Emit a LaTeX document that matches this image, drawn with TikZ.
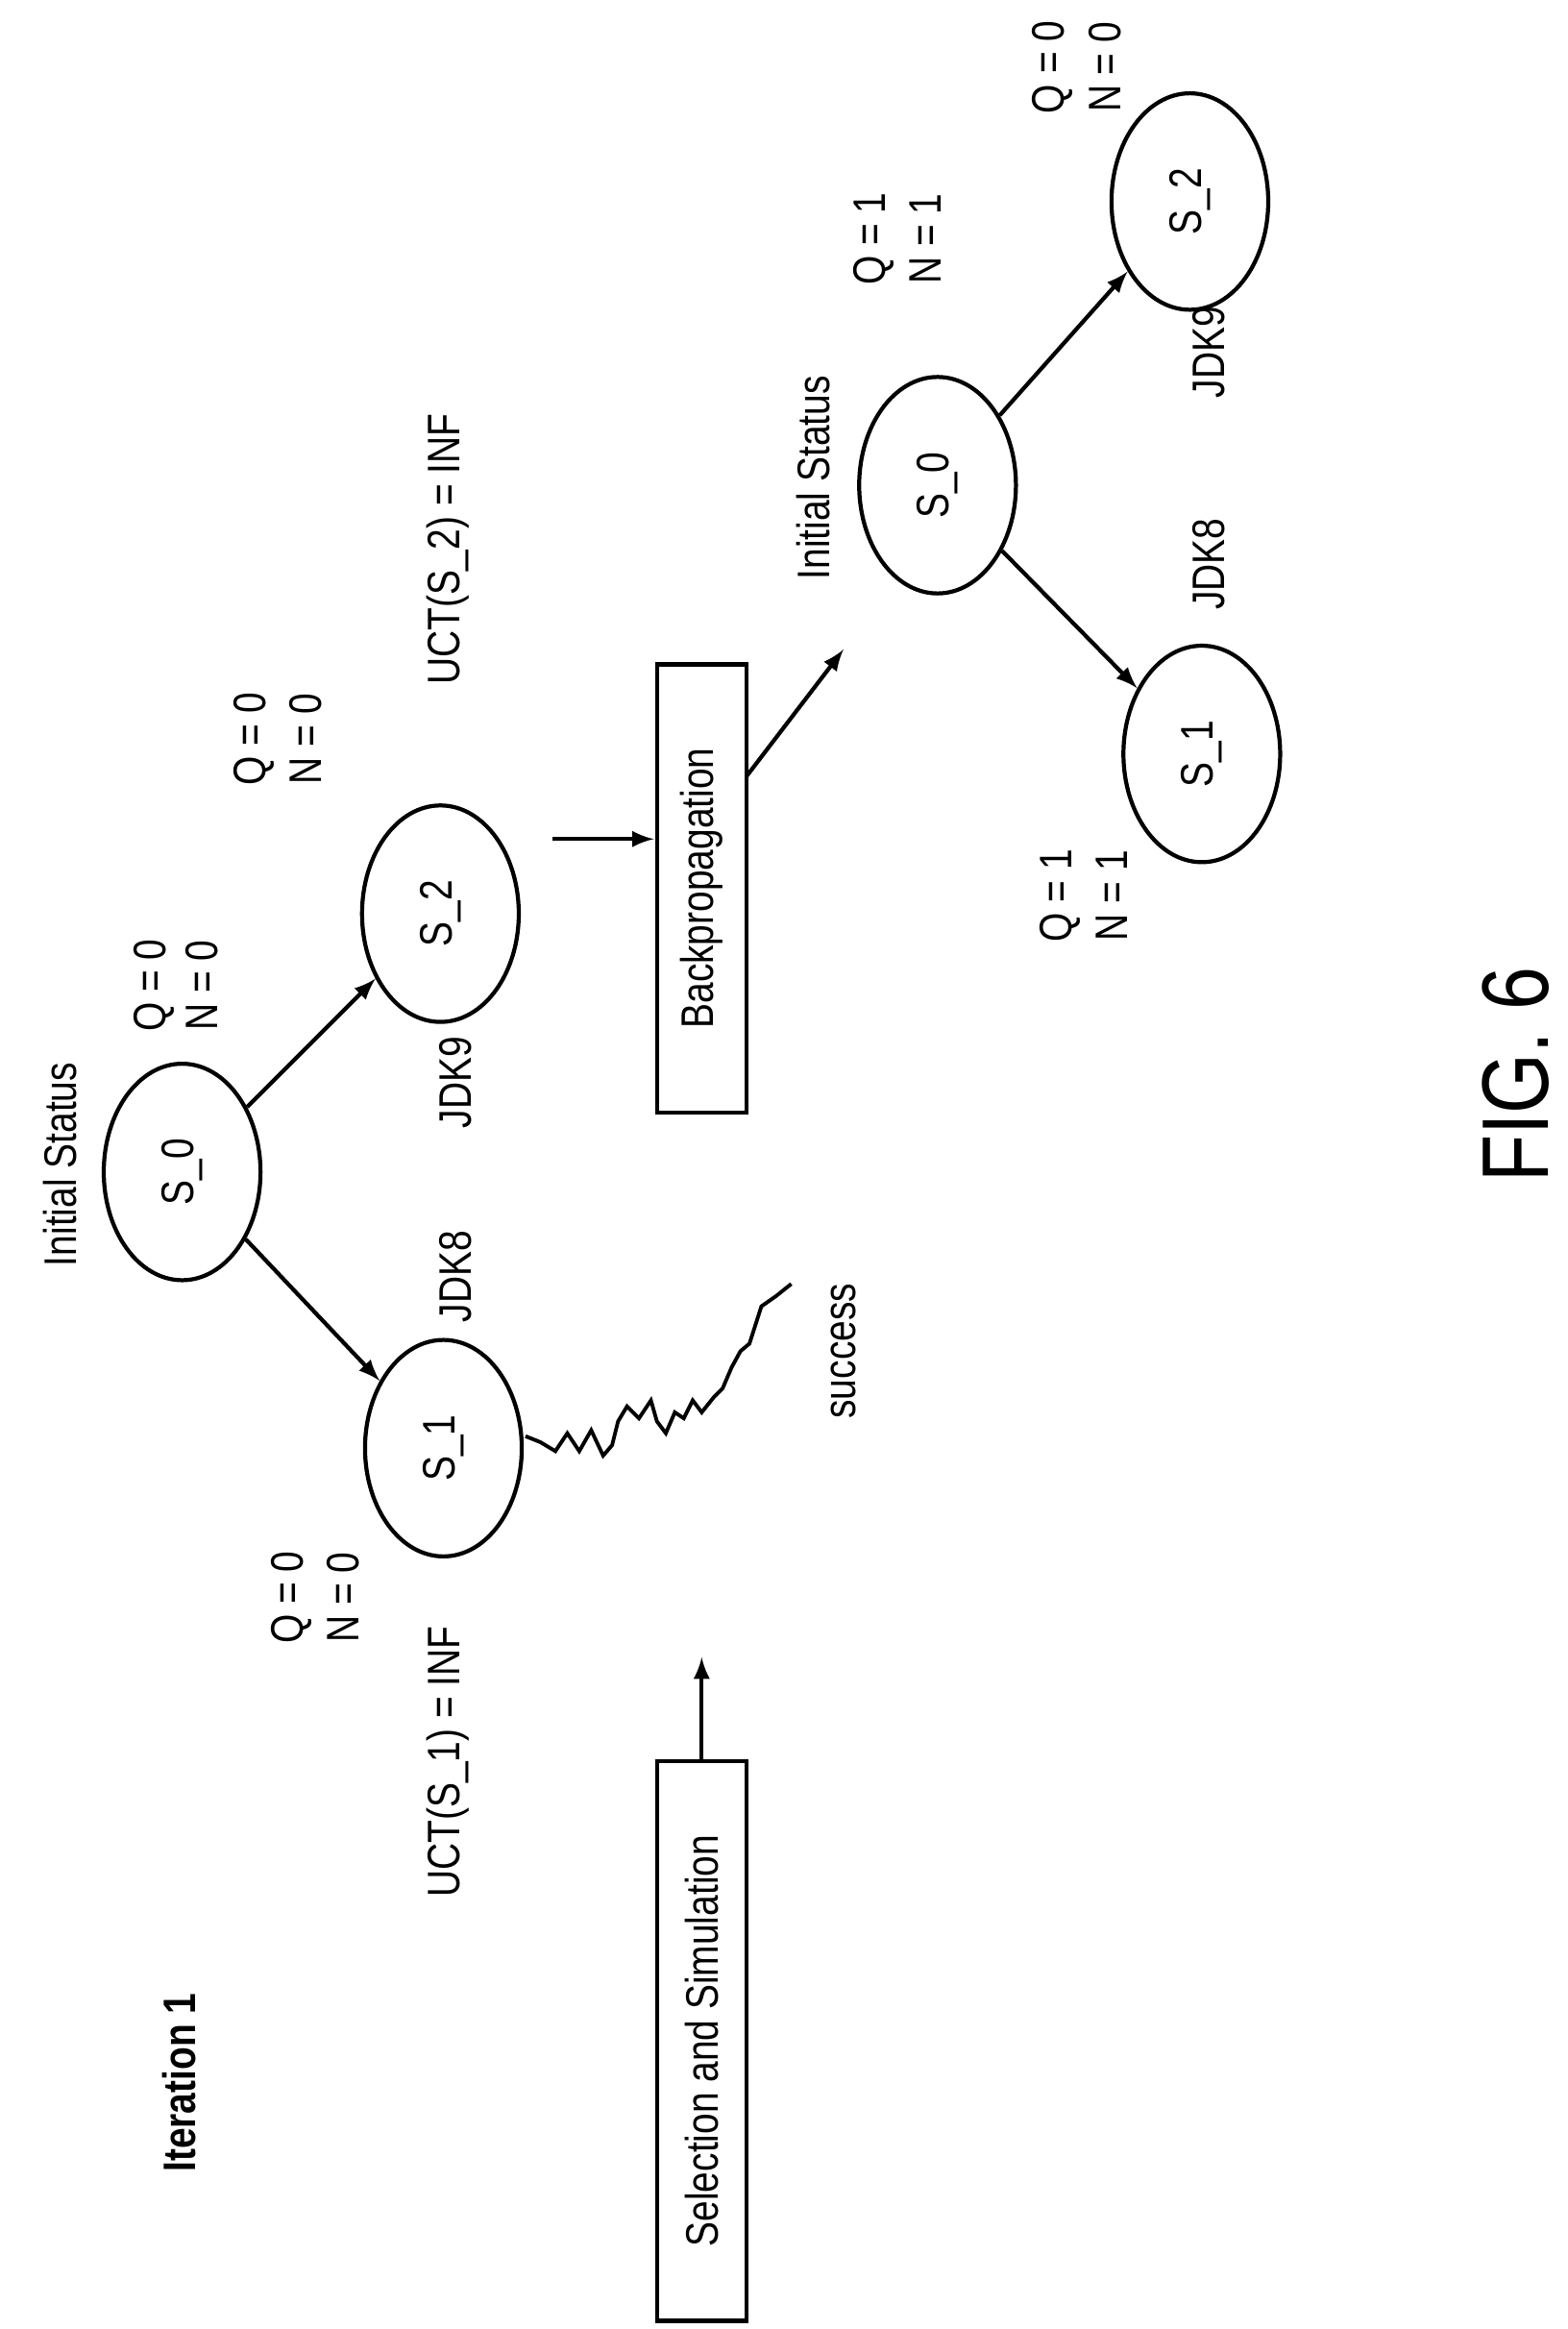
\documentclass[tikz,border=0pt]{standalone}
\usetikzlibrary{shapes.geometric}
\usepackage{fontspec}
\setmainfont[FakeStretch=0.82]{Liberation Sans}
\begin{document}
\begin{tikzpicture}[x=0.01553cm,y=-0.01553cm,
  lab/.style={rotate=90,font=\fontsize{13.5}{15}\selectfont,inner sep=0},
  box/.style={draw,line width=1.2pt,rotate=90,font=\fontsize{13.5}{15}\selectfont},
  arr/.style={-latex,line width=1.2pt}]
\useasboundingbox (0,0) rectangle (1050,1560);
\tikzset{ell/.style={draw,line width=1.2pt,ellipse,minimum width=145*0.01553cm,minimum height=105*0.01553cm,rotate=90,font=\fontsize{13.5}{15}\selectfont,inner sep=0}}
\node[rotate=90,font=\bfseries\fontsize{13.5}{15}\selectfont] (it) at (120,1395) {Iteration 1};
\node[box,minimum width=375*0.01553cm,minimum height=60*0.01553cm] (sel) at (470,1367) {Selection and Simulation};
\coordinate (selt) at (470,1110);
\draw[arr] (sel.east) -- (selt);
% tree 1
\node[ell] (a0) at (122,785) {S\_0};
\node[ell] (a1) at (297,970) {S\_1};
\node[ell] (a2) at (295,612) {S\_2};
\draw[arr] (a0) -- (a1);
\draw[arr] (a0) -- (a2);
\node[lab] (lis) at (40,780) {Initial Status};
\node[lab] (q0) at (103,660) {Q = 0};
\node[lab] (n0) at (135,660) {N = 0};
\node[lab] (q1) at (195,1070) {Q = 0};
\node[lab] (n1) at (230,1070) {N = 0};
\node[lab] (u1) at (300,1180) {UCT(S\_1) = INF};
\node[lab] (j8) at (305,855) {JDK8};
\node[lab] (j9) at (305,725) {JDK9};
\node[lab] (q2) at (170,495) {Q = 0};
\node[lab] (n2) at (205,495) {N = 0};
\node[lab] (u2) at (300,368) {UCT(S\_2) = INF};
\coordinate (sq) at (530,860);
\draw[line width=1.1pt] (352,962) -- (362,966) -- (372,972) -- (380,960) -- (388,972) -- (396,958) -- (404,975) -- (410,968) -- (414,952) -- (420,942) -- (428,950) -- (436,938) -- (440,952) -- (446,960) -- (452,946) -- (458,950) -- (464,938) -- (470,946) -- (478,936) -- (484,930) -- (490,916) -- (496,905) -- (502,900) -- (510,875) -- (520,868) -- (sq);
\node[lab] (succ) at (565,905) {success};
\node[box,minimum width=300*0.01553cm,minimum height=60*0.01553cm] (bp) at (470,595) {Backpropagation};
\coordinate (bpa) at (370,562);
\coordinate (bpb) at (438,562);
\draw[arr] (bpa) -- (bpb);
\coordinate (bpt) at (565,435);
\coordinate (bps) at (500,520);
\draw[arr] (bps) -- (bpt);
% tree 2
\node[ell] (b0) at (628,325) {S\_0};
\node[ell] (b1) at (805,505) {S\_1};
\node[ell] (b2) at (797,135) {S\_2};
\draw[arr] (b0) -- (b1);
\draw[arr] (b0) -- (b2);
\node[lab] (lis2) at (545,320) {Initial Status};
\node[lab] (qb0) at (585,160) {Q = 1};
\node[lab] (nb0) at (620,160) {N = 1};
\node[lab] (qb1) at (710,600) {Q = 1};
\node[lab] (nb1) at (745,600) {N = 1};
\node[lab] (jb8) at (810,378) {JDK8};
\node[lab] (jb9) at (810,236) {JDK9};
\node[lab] (qb2) at (705,45) {Q = 0};
\node[lab] (nb2) at (740,45) {N = 0};
\node[rotate=90,font=\fontsize{28}{30}\selectfont] (fig) at (1015,720) {FIG. 6};
\end{tikzpicture}
\end{document}
